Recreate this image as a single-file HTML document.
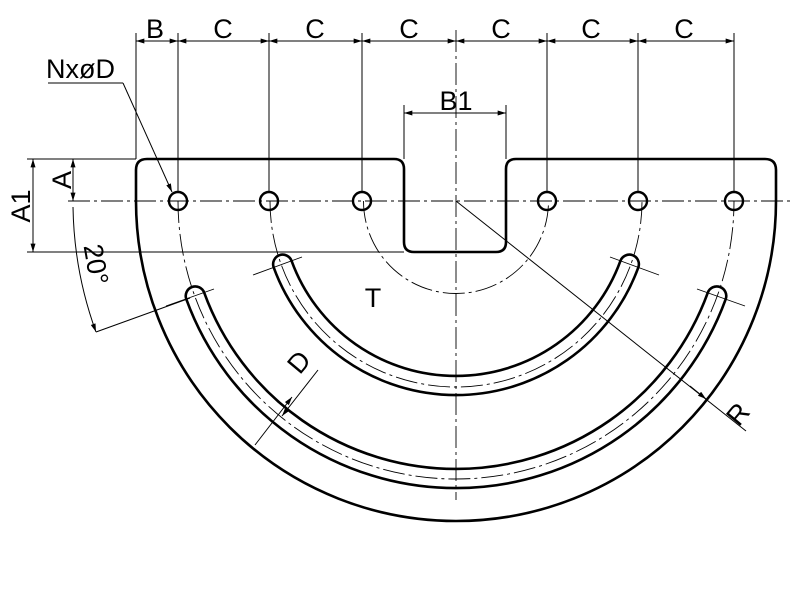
<!DOCTYPE html>
<html><head><meta charset="utf-8"><style>
html,body{margin:0;padding:0;background:#fff;}
svg{display:block;}
text{font-family:"Liberation Sans",sans-serif;font-size:27px;fill:#000;}
</style></head><body>
<svg width="800" height="600" viewBox="0 0 800 600" xmlns="http://www.w3.org/2000/svg">
<defs>
<marker id="a" viewBox="0 0 10 6" refX="10" refY="3" markerWidth="9" markerHeight="5" orient="auto-start-reverse" markerUnits="userSpaceOnUse">
<path d="M0,0 L10,3 L0,6 Z" fill="#000"/></marker>
</defs>
<g fill="none" stroke="#000">
<!-- outer contour -->
<path stroke-width="2.6" d="M136,201 L136,170 Q136,159 147,159 L394,159 Q404,159 404,169 L404,242 Q404,252 414,252 L496,252 Q506,252 506,242 L506,169 Q506,159 516,159 L765,159 Q776,159 776,170 L776,201 A320,320 0 0 1 136,201 Z"/>
<!-- holes -->
<g stroke-width="2.4">
<circle cx="178" cy="201" r="9"/><circle cx="269" cy="201" r="9"/><circle cx="362" cy="201" r="9"/>
<circle cx="547" cy="201" r="9"/><circle cx="638" cy="201" r="9"/><circle cx="734" cy="201" r="9"/>
</g>
<!-- slots -->
<path stroke-width="2.6" d="M638.3,267.4 A194,194 0 0 1 273.7,267.4 A9.5,9.5 0 0 1 291.6,260.9 A175,175 0 0 0 620.4,260.9 A9.5,9.5 0 0 1 638.3,267.4 Z"/>
<path stroke-width="2.6" d="M725.7,299.2 A287,287 0 0 1 186.3,299.2 A9.5,9.5 0 0 1 204.2,292.7 A268,268 0 0 0 707.8,292.7 A9.5,9.5 0 0 1 725.7,299.2 Z"/>
<!-- center lines -->
<g stroke-width="0.9" stroke-dasharray="22,4,3,4">
<line x1="68" y1="201" x2="792" y2="201"/>
<line x1="456" y1="30" x2="456" y2="500"/>
<path d="M178,201 A278,278 0 0 0 734,201"/>
<path d="M270,201 A186,186 0 0 0 642,201"/>
<path d="M363.5,201 A92.5,92.5 0 0 0 548.5,201"/>
</g>
<!-- radial ticks at slot ends -->
<g stroke-width="0.9">
<line x1="253" y1="275" x2="302" y2="257"/>
<line x1="610" y1="257" x2="659" y2="275"/>
<line x1="166" y1="306" x2="214" y2="289"/>
<line x1="697" y1="289" x2="745" y2="306"/>
</g>
<!-- dimension lines -->
<g stroke-width="1">
<line x1="136" y1="33" x2="136" y2="159"/>
<line x1="178" y1="33" x2="178" y2="192"/>
<line x1="269" y1="33" x2="269" y2="192"/>
<line x1="362" y1="33" x2="362" y2="192"/>
<line x1="547" y1="33" x2="547" y2="192"/>
<line x1="638" y1="33" x2="638" y2="192"/>
<line x1="734" y1="33" x2="734" y2="192"/>
<line x1="136" y1="41" x2="178" y2="41" marker-start="url(#a)" marker-end="url(#a)"/>
<line x1="178" y1="41" x2="269" y2="41" marker-start="url(#a)" marker-end="url(#a)"/>
<line x1="269" y1="41" x2="362" y2="41" marker-start="url(#a)" marker-end="url(#a)"/>
<line x1="362" y1="41" x2="456" y2="41" marker-start="url(#a)" marker-end="url(#a)"/>
<line x1="456" y1="41" x2="547" y2="41" marker-start="url(#a)" marker-end="url(#a)"/>
<line x1="547" y1="41" x2="638" y2="41" marker-start="url(#a)" marker-end="url(#a)"/>
<line x1="638" y1="41" x2="734" y2="41" marker-start="url(#a)" marker-end="url(#a)"/>
<!-- B1 -->
<line x1="404" y1="105" x2="404" y2="159"/>
<line x1="506" y1="105" x2="506" y2="159"/>
<line x1="404" y1="113" x2="506" y2="113" marker-start="url(#a)" marker-end="url(#a)"/>
<!-- A1 / A -->
<line x1="27" y1="159" x2="136" y2="159"/>
<line x1="27" y1="252" x2="404" y2="252"/>
<line x1="33" y1="159" x2="33" y2="252" marker-start="url(#a)" marker-end="url(#a)"/>
<line x1="73" y1="159" x2="73" y2="201" marker-start="url(#a)" marker-end="url(#a)"/>
<!-- 20 deg -->
<path d="M73,207 A383,383 0 0 0 96,332" marker-end="url(#a)"/>
<line x1="96" y1="332" x2="190" y2="298"/>
<!-- R -->
<line x1="456" y1="201" x2="746" y2="431"/>
<line x1="690" y1="386" x2="706" y2="399" marker-end="url(#a)"/>
<!-- D -->
<line x1="255" y1="445" x2="292" y2="397" marker-end="url(#a)"/>
<line x1="318" y1="370" x2="282" y2="416" marker-end="url(#a)"/>
<!-- leader -->
<line x1="48" y1="83" x2="123" y2="83"/>
<line x1="123" y1="83" x2="172" y2="192" marker-end="url(#a)"/>
</g>
</g>
<text x="155" y="38" text-anchor="middle">B</text>
<text x="223" y="38" text-anchor="middle">C</text>
<text x="315" y="38" text-anchor="middle">C</text>
<text x="409" y="38" text-anchor="middle">C</text>
<text x="501" y="38" text-anchor="middle">C</text>
<text x="591" y="38" text-anchor="middle">C</text>
<text x="684" y="38" text-anchor="middle">C</text>
<text x="456" y="110" text-anchor="middle">B1</text>
<text x="46" y="78">Nx&#248;D</text>
<text x="373" y="307" text-anchor="middle">T</text>
<text transform="translate(30,206) rotate(-90)" text-anchor="middle">A1</text>
<text transform="translate(71,180) rotate(-90)" text-anchor="middle">A</text>
<text transform="translate(87,266) rotate(80)" text-anchor="middle">20°</text>
<text transform="translate(306,368) rotate(-50)" text-anchor="middle">D</text>
<text transform="translate(745,420) rotate(-50)" text-anchor="middle">R</text>
</svg>
</body></html>
